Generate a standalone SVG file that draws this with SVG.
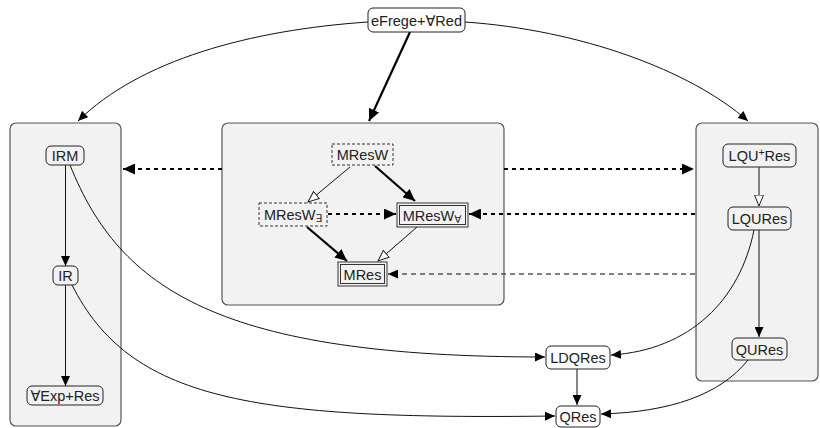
<svg xmlns="http://www.w3.org/2000/svg" width="820" height="428" viewBox="0 0 820 428">
  <defs>
    <style>
      .box { fill: #f2f2f2; stroke: #555; stroke-width: 1.2; }
      .node { fill: #f2f2f2; stroke: #222; stroke-width: 1; }
      .node-w { fill: #ffffff; stroke: #222; stroke-width: 1; }
      .node-d { fill: #f2f2f2; stroke: #333; stroke-width: 1; stroke-dasharray: 3 2; }
      .node-dbl { fill: #f2f2f2; stroke: #333; stroke-width: 1; }
      .lbl { font-family: "Liberation Sans", "DejaVu Sans", sans-serif; font-size: 14.5px; fill: #222; text-anchor: middle; }
      .sub { font-size: 10.5px; }
      .e { fill: none; stroke: #111; stroke-width: 1; }
      .e-thick { fill: none; stroke: #000; stroke-width: 2.2; }
      .e-dash { fill: none; stroke: #000; stroke-width: 2.2; stroke-dasharray: 4 4; }
      .e-grey { fill: none; stroke: #555; stroke-width: 1.3; stroke-dasharray: 5 4; }
    </style>
    <marker id="arr" markerUnits="userSpaceOnUse" markerWidth="11" markerHeight="9" refX="10" refY="4.5" orient="auto">
      <path d="M0,0 L10,4.5 L0,9 z" fill="#000"/>
    </marker>
    <marker id="arr-big" markerUnits="userSpaceOnUse" markerWidth="13" markerHeight="11" refX="12" refY="5.5" orient="auto">
      <path d="M0,0 L12,5.5 L0,11 z" fill="#000"/>
    </marker>
    <marker id="arr-open" markerUnits="userSpaceOnUse" markerWidth="13" markerHeight="11" refX="11.5" refY="5" orient="auto">
      <path d="M0.5,0.5 L11.5,5 L0.5,9.5 z" fill="#fff" stroke="#222" stroke-width="1"/>
    </marker>
  </defs>

  <!-- grouping boxes -->
  <g id="box-left"><rect class="box" x="10" y="123" width="111" height="303" rx="6"/></g>
  <g id="box-mid"><rect class="box" x="222" y="123" width="282" height="182" rx="6"/></g>
  <g id="box-right"><rect class="box" x="696" y="123" width="122" height="258" rx="6"/></g>

  <!-- connectors -->
  <g id="edges">
    <path class="e" d="M368,22 C250,30 140,60 78,121" marker-end="url(#arr)"/>
    <path class="e" d="M465,22 C580,30 690,70 748,121" marker-end="url(#arr)"/>
    <path class="e-thick" d="M410,32 L369,121" marker-end="url(#arr-big)"/>

    <path class="e-dash" d="M222,169 L123,169" marker-end="url(#arr-big)"/>
    <path class="e-dash" d="M504,169 L694,169" marker-end="url(#arr-big)"/>
    <path class="e-dash" d="M695,214 L469,214" marker-end="url(#arr-big)"/>
    <path class="e-grey" d="M695,274 L388,274" marker-end="url(#arr)"/>

    <path class="e" d="M350,167 L308,202" marker-end="url(#arr-open)"/>
    <path class="e-thick" d="M375,166 L415,201" marker-end="url(#arr-big)"/>
    <path class="e-dash" d="M328,214 L396,214" marker-end="url(#arr-big)"/>
    <path class="e-thick" d="M307,227 L347,261" marker-end="url(#arr-big)"/>
    <path class="e" d="M417,227 L378,261" marker-end="url(#arr-open)"/>

    <path class="e" d="M65.5,165 L65.5,266" marker-end="url(#arr)"/>
    <path class="e" d="M65.5,285 L65.5,386" marker-end="url(#arr)"/>

    <path class="e" d="M759,167 L759,206" marker-end="url(#arr-open)"/>
    <path class="e" d="M759,230 L759,337" marker-end="url(#arr)"/>

    <path class="e" d="M577,369 L577,405" marker-end="url(#arr)"/>

    <path class="e" d="M70,165 C120,290 220,357 545,357" marker-end="url(#arr)"/>
    <path class="e" d="M72,285 C130,400 250,420 555,416" marker-end="url(#arr)"/>
    <path class="e" d="M754,230 C740,300 690,350 611,355" marker-end="url(#arr)"/>
    <path class="e" d="M748,360 C720,395 670,412 601,414" marker-end="url(#arr)"/>
  </g>

  <!-- nodes -->
  <g id="n-efrege">
    <rect class="node-w" x="368" y="8" width="97" height="24" rx="5"/>
    <text class="lbl" x="416.5" y="25.5">eFrege+∀Red</text>
  </g>
  <g id="n-irm">
    <rect class="node" x="46" y="146" width="38" height="19" rx="5"/>
    <text class="lbl" x="65" y="161">IRM</text>
  </g>
  <g id="n-ir">
    <rect class="node" x="53" y="266" width="25" height="19" rx="5"/>
    <text class="lbl" x="65.5" y="281">IR</text>
  </g>
  <g id="n-exp">
    <rect class="node" x="27" y="386" width="76" height="19" rx="5"/>
    <text class="lbl" x="65" y="401">∀Exp+Res</text>
  </g>
  <g id="n-mresw">
    <rect class="node-d" x="332" y="144" width="61" height="21"/>
    <text class="lbl" x="362.5" y="160">MResW</text>
  </g>
  <g id="n-mresw-e">
    <rect class="node-d" x="259" y="203" width="68" height="23"/>
    <text class="lbl" x="293" y="220">MResW<tspan class="sub" dy="2">∃</tspan></text>
  </g>
  <g id="n-mresw-a">
    <rect class="node-dbl" x="397" y="203" width="71" height="24"/>
    <rect class="node-dbl" x="399.5" y="205.5" width="66" height="19" fill="none"/>
    <text class="lbl" x="432" y="220.5">MResW<tspan class="sub" dy="2">∀</tspan></text>
  </g>
  <g id="n-mres">
    <rect class="node-dbl" x="338" y="262" width="49" height="24"/>
    <rect class="node-dbl" x="340.5" y="264.5" width="44" height="19" fill="none"/>
    <text class="lbl" x="362.5" y="279.5">MRes</text>
  </g>
  <g id="n-lquplus">
    <rect class="node" x="723" y="144" width="73" height="23" rx="5"/>
    <text class="lbl" x="759.5" y="161">LQU<tspan class="sub" dy="-5">+</tspan><tspan dy="5">Res</tspan></text>
  </g>
  <g id="n-lqures">
    <rect class="node" x="728" y="207" width="63" height="23" rx="5"/>
    <text class="lbl" x="759.5" y="224">LQURes</text>
  </g>
  <g id="n-qures">
    <rect class="node" x="732" y="338" width="55" height="22" rx="5"/>
    <text class="lbl" x="759.5" y="354.5">QURes</text>
  </g>
  <g id="n-ldqres">
    <rect class="node-w" x="546" y="346" width="64" height="23" rx="5"/>
    <text class="lbl" x="578" y="363">LDQRes</text>
  </g>
  <g id="n-qres">
    <rect class="node-w" x="556" y="406" width="44" height="21" rx="5"/>
    <text class="lbl" x="578" y="422">QRes</text>
  </g>
</svg>
